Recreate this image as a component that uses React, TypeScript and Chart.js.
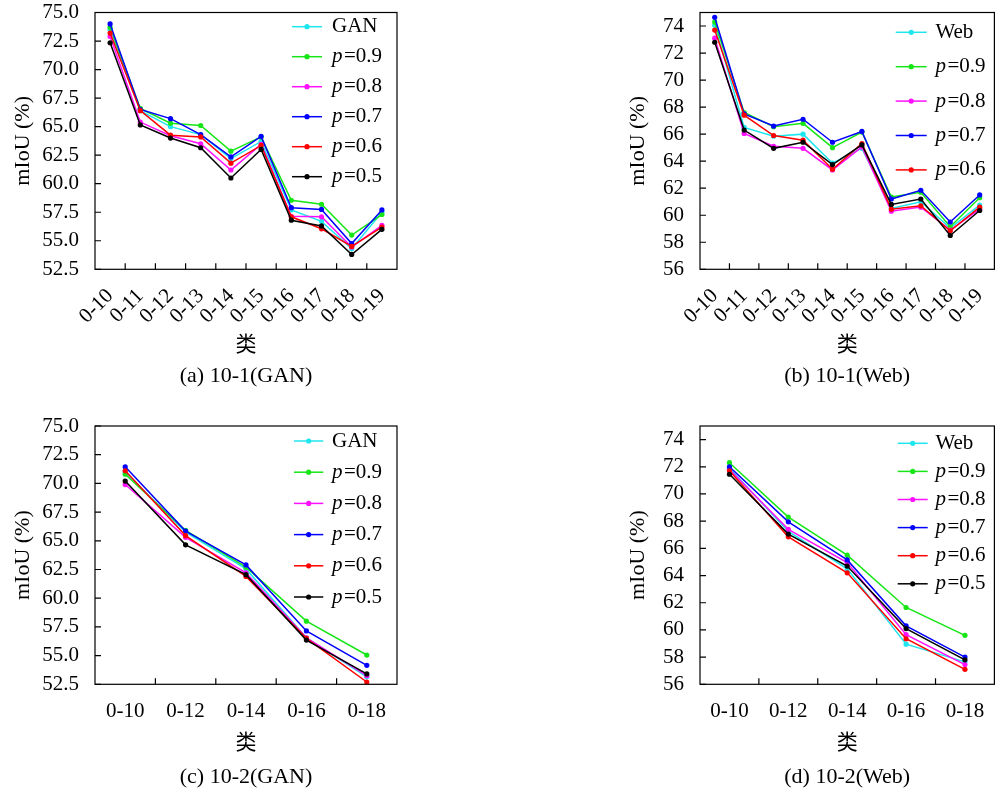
import React, { useEffect, useRef } from "react";
import { Chart, registerables } from "chart.js";
Chart.register(...registerables);

const FONT = "'Liberation Serif', 'Noto Sans CJK SC', serif";

// ---------- data ----------
const cats101 = ["0-10", "0-11", "0-12", "0-13", "0-14", "0-15", "0-16", "0-17", "0-18", "0-19"];
const cats102 = ["0-10", "0-12", "0-14", "0-16", "0-18"];

const seriesNames = ["p=0.9", "p=0.8", "p=0.7", "p=0.6", "p=0.5"];

// (a) 10-1 (GAN)
const aGAN = [73.5, 66.4, 65.0, 64.3, 62.2, 63.7, 57.7, 56.7, 54.3, 57.5];
const aP09 = [73.7, 66.6, 65.3, 65.1, 62.85, 64.1, 58.55, 58.2, 55.5, 57.3];
const aP08 = [72.9, 65.4, 64.2, 63.5, 61.2, 63.45, 57.15, 57.1, 54.45, 56.35];
const aP07 = [74.0, 66.5, 65.7, 64.3, 62.35, 64.15, 57.9, 57.75, 54.75, 57.7];
const aP06 = [73.2, 66.4, 64.25, 64.1, 61.8, 63.35, 57.1, 56.05, 54.5, 56.2];
const aP05 = [72.35, 65.15, 64.0, 63.15, 60.5, 63.0, 56.8, 56.3, 53.8, 56.0];

// (b) 10-1 (Web)
const bWeb = [74.05, 66.5, 65.85, 66.0, 63.85, 64.95, 60.5, 61.0, 59.05, 60.75];
const bP09 = [74.3, 67.6, 66.55, 66.8, 65.0, 66.15, 61.35, 61.7, 59.15, 61.3];
const bP08 = [73.1, 66.05, 65.1, 64.95, 63.35, 65.05, 60.3, 60.6, 58.9, 60.45];
const bP07 = [74.65, 67.5, 66.6, 67.1, 65.4, 66.2, 61.2, 61.85, 59.5, 61.5];
const bP06 = [73.7, 67.4, 65.9, 65.55, 63.4, 65.3, 60.45, 60.7, 58.85, 60.6];
const bP05 = [72.8, 66.3, 64.95, 65.4, 63.75, 65.2, 60.8, 61.2, 58.5, 60.35];

// (c) 10-2 (GAN)
const cGAN = [71.0, 65.75, 62.55, 56.55, 53.15];
const cP09 = [70.8, 65.9, 62.7, 58.0, 55.05];
const cP08 = [69.9, 65.3, 62.2, 56.55, 53.25];
const cP07 = [71.45, 65.85, 62.9, 57.15, 54.15];
const cP06 = [71.1, 65.45, 61.9, 56.5, 52.7];
const cP05 = [70.2, 64.65, 62.05, 56.35, 53.4];

// (d) 10-2 (Web)
const dWeb = [71.9, 67.25, 64.5, 58.95, 57.65];
const dP09 = [72.3, 68.3, 65.5, 61.65, 59.6];
const dP08 = [71.8, 67.4, 64.95, 59.65, 57.45];
const dP07 = [72.0, 67.95, 65.15, 60.3, 58.0];
const dP06 = [71.7, 66.85, 64.2, 59.35, 57.1];
const dP05 = [71.45, 67.05, 64.7, 60.1, 57.8];

const COLORS = ["#1ee6ee", "#16e616", "#ff10ff", "#0000ff", "#ff0000", "#000000"];

type PanelCfg = {
  left: number; top: number; width: number; height: number;
  labels: string[];
  first: string;
  values: number[][];
  legendHide: number[];
  yMin: number; yMax: number; yStep: number; yDec: number;
  rot: number;
  padTop: number; padRight: number;
  yWidth: number; yTitlePad: number;
  xHeight: number; xPad: number; xTitlePad: number;
  caption: string; capOffset: number;
  leg: { lineX: number; len: number; textX: number; y0: number; dy: number };
};

function Panel({ cfg }: { cfg: PanelCfg }) {
  const ref = useRef<HTMLCanvasElement | null>(null);
  useEffect(() => {
    if (!ref.current) return;
    const names = [cfg.first, ...seriesNames];
    const n = names.length;
    const datasets = cfg.values.map((d, i) => ({
      label: names[i],
      data: d,
      borderColor: COLORS[i],
      backgroundColor: COLORS[i],
      borderWidth: 1.5,
      pointRadius: 2.6,
      pointBorderWidth: 0,
      pointHoverRadius: 2.6,
      tension: 0,
      order: n - i,
    }));
    const deco = {
      id: "deco",
      afterDraw(chart: any) {
        const { ctx, chartArea } = chart;
        const { left, right, top, bottom } = chartArea;
        const xs = chart.scales.x;
        const ys = chart.scales.y;
        ctx.save();
        ctx.strokeStyle = "#000";
        ctx.lineWidth = 1.2;
        // inward ticks
        ctx.beginPath();
        for (let i = 1; i < cfg.labels.length; i++) {
          const px = (xs.getPixelForValue(i - 1) + xs.getPixelForValue(i)) / 2;
          ctx.moveTo(px, bottom);
          ctx.lineTo(px, bottom - 6);
        }
        ys.ticks.forEach((t: any) => {
          const py = ys.getPixelForValue(t.value);
          ctx.moveTo(left, py);
          ctx.lineTo(left + 6, py);
        });
        ctx.stroke();
        // frame
        ctx.strokeRect(left, top, right - left, bottom - top);
        // caption
        ctx.fillStyle = "#000";
        ctx.font = `22px ${FONT}`;
        ctx.textAlign = "center";
        ctx.textBaseline = "middle";
        ctx.fillText(cfg.caption, (left + right) / 2, bottom + cfg.capOffset);
        // legend
        const L = cfg.leg;
        let k = 0;
        for (let i = 0; i < n; i++) {
          if (cfg.legendHide.includes(i)) continue;
          const y = top + L.y0 + k * L.dy;
          const x0 = right + L.lineX;
          const x1 = x0 + L.len;
          ctx.strokeStyle = COLORS[i];
          ctx.fillStyle = COLORS[i];
          ctx.lineWidth = 1.5;
          ctx.beginPath();
          ctx.moveTo(x0, y);
          ctx.lineTo(x1, y);
          ctx.stroke();
          ctx.beginPath();
          ctx.arc((x0 + x1) / 2, y, 2.6, 0, Math.PI * 2);
          ctx.fill();
          ctx.fillStyle = "#000";
          ctx.textBaseline = "middle";
          ctx.textAlign = "left";
          const label = names[i];
          const tx = right + L.textX;
          if (label.startsWith("p=")) {
            ctx.font = `italic 21px ${FONT}`;
            ctx.fillText("p", tx, y);
            const w = ctx.measureText("p").width;
            ctx.font = `21px ${FONT}`;
            ctx.fillText(label.slice(1), tx + w + 1.5, y);
          } else {
            ctx.font = `21px ${FONT}`;
            ctx.fillText(label, tx, y);
          }
          k++;
        }
        ctx.restore();
      },
    };
    const chart = new Chart(ref.current, {
      type: "line",
      data: { labels: cfg.labels, datasets },
      plugins: [deco],
      options: {
        responsive: false,
        animation: false,
        devicePixelRatio: 1,
        layout: { padding: { left: 0, right: cfg.padRight, top: cfg.padTop, bottom: 0 } },
        plugins: {
          legend: { display: false },
          tooltip: { enabled: false },
          title: { display: false },
        },
        scales: {
          x: {
            type: "category",
            offset: true,
            afterFit: (s: any) => {
              s.height = cfg.xHeight;
              s.paddingLeft = 0; s.paddingRight = 0;
            },
            grid: { display: false, drawTicks: false, offset: true },
            border: { display: false },
            ticks: {
              autoSkip: false,
              maxRotation: cfg.rot,
              minRotation: cfg.rot,
              padding: cfg.xPad,
              color: "#000",
              font: { family: FONT, size: 21, lineHeight: 1 },
            },
            title: {
              display: true,
              text: "类",
              color: "#000",
              font: { family: FONT, size: 21, lineHeight: 1 },
              padding: { top: 0, bottom: cfg.xTitlePad },
            },
          },
          y: {
            type: "linear",
            min: cfg.yMin,
            max: cfg.yMax,
            afterFit: (s: any) => {
              s.width = cfg.yWidth;
              s.paddingTop = 0; s.paddingBottom = 0;
            },
            grid: { display: false, drawTicks: false },
            border: { display: false },
            ticks: {
              stepSize: cfg.yStep,
              includeBounds: false,
              padding: 16,
              color: "#000",
              font: { family: FONT, size: 21, lineHeight: 1 },
              callback: (v: any) => Number(v).toFixed(cfg.yDec),
            },
            title: {
              display: true,
              text: "mIoU (%)",
              color: "#000",
              font: { family: FONT, size: 22, lineHeight: 1 },
              padding: { top: cfg.yTitlePad, bottom: 0 },
            },
          },
        },
      } as any,
    });
    return () => chart.destroy();
  }, [cfg]);
  return (
    <div style={{ position: "absolute", left: cfg.left, top: cfg.top, width: cfg.width, height: cfg.height }}>
      <canvas ref={ref} width={cfg.width} height={cfg.height} style={{ display: "block", width: cfg.width, height: cfg.height }} />
    </div>
  );
}

const topCommon = { top: 0, height: 395, padTop: 12.5, xHeight: 125.7, xPad: 16, xTitlePad: 39.5, capOffset: 106.7, rot: 45 };
const botCommon = { top: 395, height: 394, padTop: 31, xHeight: 104.7, xPad: 17, xTitlePad: 35.5, capOffset: 92.7, rot: 0 };

const panels: PanelCfg[] = [
  {
    ...topCommon, left: 0, width: 498, labels: cats101, first: "GAN",
    values: [aGAN, aP09, aP08, aP07, aP06, aP05], legendHide: [],
    yMin: 52.5, yMax: 75, yStep: 2.5, yDec: 1, padRight: 101, yWidth: 95, yTitlePad: 12,
    caption: "(a) 10-1(GAN)", leg: { lineX: -105, len: 30, textX: -65, y0: 14.2, dy: 30 },
  },
  {
    ...topCommon, left: 498, width: 499, labels: cats101, first: "Web",
    values: [bWeb, bP09, bP08, bP07, bP06, bP05], legendHide: [5],
    yMin: 56, yMax: 75, yStep: 2, yDec: 0, padRight: 1, yWidth: 202, yTitlePad: 129,
    caption: "(b) 10-1(Web)", leg: { lineX: -98.7, len: 31, textX: -59, y0: 19.8, dy: 34.4 },
  },
  {
    ...botCommon, left: 0, width: 498, labels: cats102, first: "GAN",
    values: [cGAN, cP09, cP08, cP07, cP06, cP05], legendHide: [],
    yMin: 52.5, yMax: 75, yStep: 2.5, yDec: 1, padRight: 101, yWidth: 95, yTitlePad: 12,
    caption: "(c) 10-2(GAN)", leg: { lineX: -103, len: 29.3, textX: -65, y0: 15, dy: 31.2 },
  },
  {
    ...botCommon, left: 498, width: 499, labels: cats102, first: "Web",
    values: [dWeb, dP09, dP08, dP07, dP06, dP05], legendHide: [],
    yMin: 56, yMax: 75, yStep: 2, yDec: 0, padRight: 1, yWidth: 202, yTitlePad: 129,
    caption: "(d) 10-2(Web)", leg: { lineX: -96.7, len: 30, textX: -59, y0: 17.3, dy: 28.1 },
  },
];

export default function App() {
  return (
    <div style={{ position: "absolute", left: 0, top: 0, width: 997, height: 789, background: "#fff", overflow: "hidden" }}>
      {panels.map((p, i) => (
        <Panel key={i} cfg={p} />
      ))}
    </div>
  );
}
